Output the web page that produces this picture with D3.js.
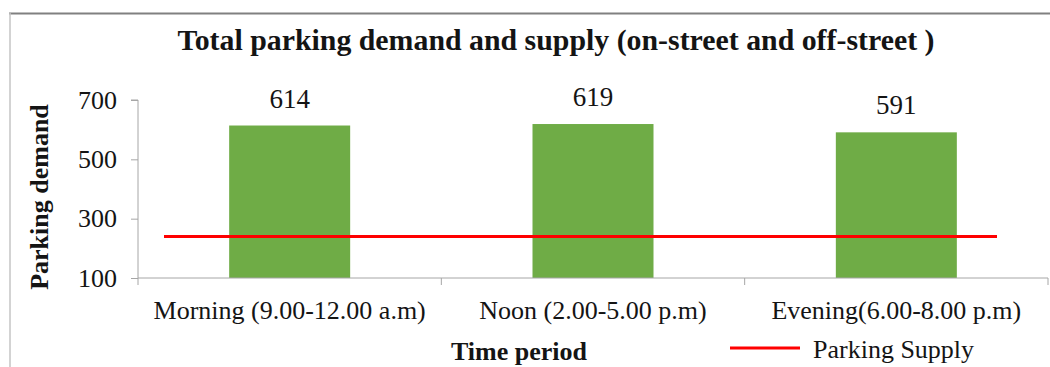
<!DOCTYPE html>
<html>
<head>
<meta charset="utf-8">
<script src="https://cdn.jsdelivr.net/npm/d3@7"></script>
<style>
  html, body { margin: 0; padding: 0; background: #fff; }
  svg { display: block; font-family: "Liberation Serif", "Times New Roman", serif; }
</style>
</head>
<body>
<svg id="chart" width="1050" height="367"></svg>
<script>
// Time periods along the x axis
const categories = ["Morning (9.00-12.00 a.m)", "Noon (2.00-5.00 p.m)", "Evening(6.00-8.00 p.m)"];
// Parking demand per period (bars)
const demand = [614, 619, 591];
// Parking supply per period (red line)
const supply = [240, 240, 240];
// Y axis tick values
const yTicks = [100, 300, 500, 700];

const svg = d3.select("#chart");
const ink = "#141414";

// frame
svg.append("line").attr("x1", 9).attr("x2", 1050).attr("y1", 13.5).attr("y2", 13.5)
  .attr("stroke", "#808080").attr("stroke-width", 2);
svg.append("line").attr("x1", 10).attr("x2", 10).attr("y1", 13).attr("y2", 367)
  .attr("stroke", "#c4c4c4").attr("stroke-width", 1.5);

const plot = { left: 138, right: 1048, top: 100, bottom: 278 };

const xBand = d3.scaleBand().domain(categories).range([plot.left, plot.right]).padding(0);
const y = d3.scaleLinear().domain([100, 700]).range([plot.bottom, plot.top]);
// supply line spans wider than the category centres
const xLine = d3.scalePoint().domain(categories).range([164, 997]);
const barWidth = 121;

// bars
svg.append("g").selectAll("rect").data(demand).join("rect")
  .attr("x", (d, i) => xBand(categories[i]) + (xBand.bandwidth() - barWidth) / 2)
  .attr("width", barWidth)
  .attr("y", d => y(d))
  .attr("height", d => y(100) - y(d))
  .attr("fill", "#6fac46");

// value labels
svg.append("g").selectAll("text").data(demand).join("text")
  .attr("x", (d, i) => xBand(categories[i]) + xBand.bandwidth() / 2)
  .attr("y", d => y(d) - 18)
  .attr("text-anchor", "middle")
  .attr("font-size", 27)
  .attr("fill", ink)
  .text(d => d);

// supply line
svg.append("path")
  .datum(supply)
  .attr("fill", "none")
  .attr("stroke", "#ff0000")
  .attr("stroke-width", 3)
  .attr("d", d3.line().x((d, i) => xLine(categories[i])).y(d => y(d)));

// y axis
const yAxis = svg.append("g").attr("transform", `translate(${plot.left},0)`)
  .call(d3.axisLeft(y).tickValues(yTicks).tickSize(7).tickPadding(14).tickFormat(d3.format("d")));
yAxis.select(".domain").attr("stroke", "#a6a6a6").attr("d", `M-7,${plot.top}H0V${plot.bottom}`);
yAxis.selectAll(".tick line").attr("stroke", "#a6a6a6");
yAxis.selectAll(".tick text").attr("font-size", 26).attr("fill", ink)
  .attr("font-family", "Liberation Serif");

// x axis with ticks at category boundaries
const xAxis = svg.append("g").attr("transform", `translate(0,${plot.bottom})`);
xAxis.append("line").attr("x1", plot.left).attr("x2", plot.right).attr("y1", 0).attr("y2", 0)
  .attr("stroke", "#a6a6a6");
const bounds = categories.map(c => xBand(c)).concat([plot.right]);
xAxis.selectAll("line.tk").data(bounds).join("line").attr("class", "tk")
  .attr("x1", d => d).attr("x2", d => d).attr("y1", 0).attr("y2", 7)
  .attr("stroke", "#a6a6a6");
xAxis.selectAll("text").data(categories).join("text")
  .attr("x", c => xBand(c) + xBand.bandwidth() / 2)
  .attr("y", 41)
  .attr("text-anchor", "middle")
  .attr("font-size", 26)
  .attr("fill", ink)
  .text(c => c);

// title
svg.append("text").attr("x", 556).attr("y", 50).attr("text-anchor", "middle")
  .attr("font-size", 29).attr("font-weight", "bold").attr("fill", ink)
  .attr("textLength", 757).attr("lengthAdjust", "spacingAndGlyphs")
  .text("Total parking demand and supply (on-street and off-street )");

// axis titles
svg.append("text").attr("transform", "translate(48,197) rotate(-90)")
  .attr("text-anchor", "middle").attr("font-size", 26).attr("font-weight", "bold").attr("fill", ink)
  .text("Parking demand");
svg.append("text").attr("x", 519).attr("y", 360).attr("text-anchor", "middle")
  .attr("font-size", 26).attr("font-weight", "bold").attr("fill", ink)
  .text("Time period");

// legend
const legend = svg.append("g");
legend.append("line").attr("x1", 730).attr("x2", 800).attr("y1", 348).attr("y2", 348)
  .attr("stroke", "#ff0000").attr("stroke-width", 3);
legend.append("text").attr("x", 813).attr("y", 358).attr("font-size", 26).attr("fill", ink)
  .text("Parking Supply");
</script>
</body>
</html>
